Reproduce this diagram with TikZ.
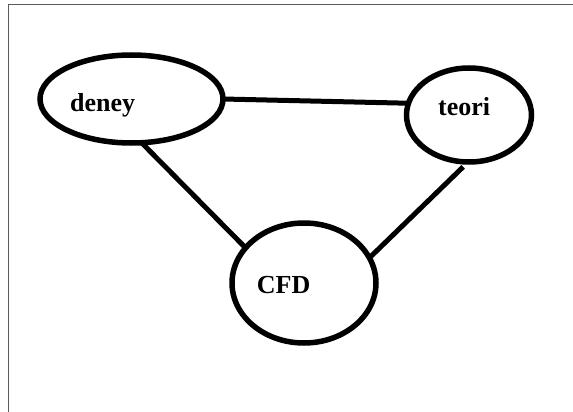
\documentclass[tikz,border=0pt]{standalone}
\usepackage{fontspec}
\setmainfont{Liberation Serif}
\usetikzlibrary{shapes.geometric}
\begin{document}
\begin{tikzpicture}[x=1pt,y=-1pt,
 oval/.style={draw=black, ellipse, line width=5.5pt, inner sep=0pt, outer sep=0pt},
 conn/.style={draw=black, line width=5pt},
 lbl/.style={font=\bfseries\fontsize{26}{26}\selectfont, inner sep=0pt, anchor=base west},
 frame/.style={draw={rgb,255:red,90;green,90;blue,90}, line width=1pt}]
\useasboundingbox (0,0) rectangle (573,412);
\coordinate (fa) at (8,412);
\coordinate (fb) at (8,5);
\coordinate (fc) at (573,5);
\draw[frame] (fa) -- (fb) -- (fc);
\node[oval, minimum width=183pt, minimum height=88pt] (deney) at (131.5,99) {};
\node[oval, minimum width=125pt, minimum height=94pt] (teori) at (469,115) {};
\node[oval, minimum width=144pt, minimum height=120pt] (cfd) at (304,283) {};
\draw[conn] (deney.0) -- (teori.169);
\draw[conn] (deney.-77) -- (cfd.149);
\draw[conn, shorten <=7pt] (teori.-91) -- (cfd.21);
\node[lbl] (tdeney) at (70,111.7) {deney};
\node[lbl] (tteori) at (438,115) {teori};
\node[lbl] (tcfd) at (256.7,293.3) {CFD};
\end{tikzpicture}
\end{document}
